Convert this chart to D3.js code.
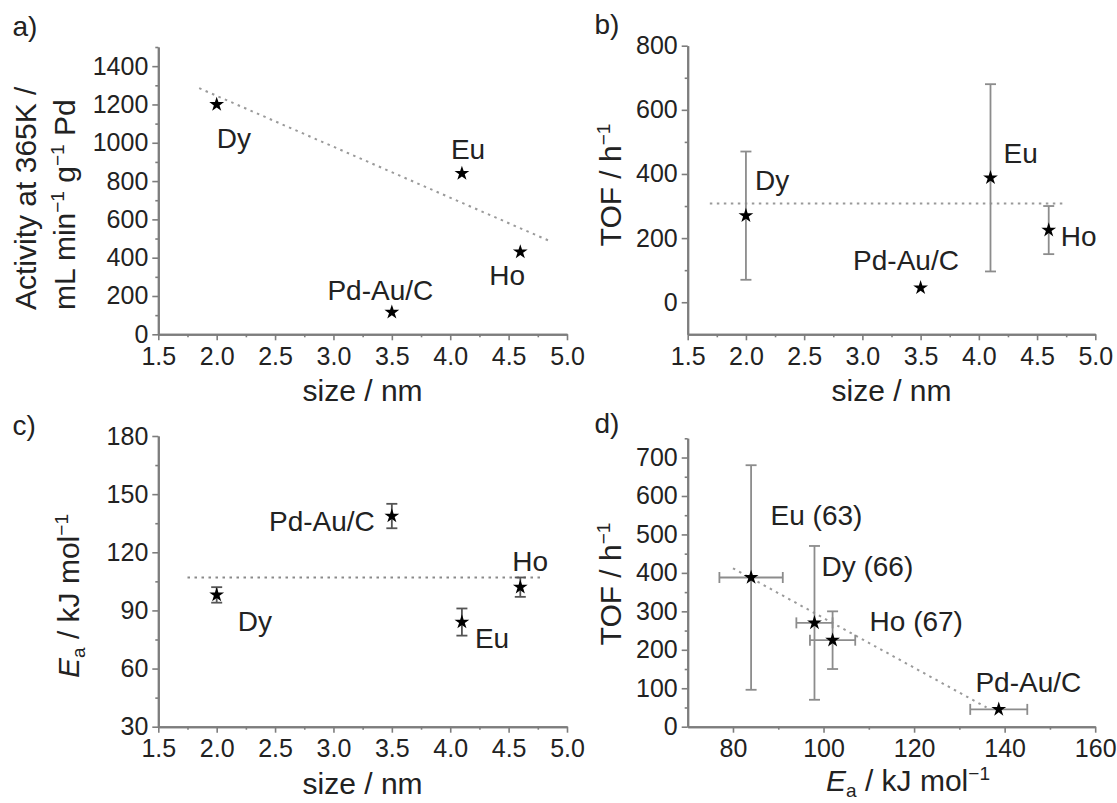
<!DOCTYPE html>
<html>
<head>
<meta charset="utf-8">
<script src="https://cdn.jsdelivr.net/npm/d3@7"></script>
<style>
  body { margin: 0; background: #fff; }
  text { font-family: "Liberation Sans", Arial, sans-serif; fill: #222; }
</style>
</head>
<body>
<svg id="fig" width="1117" height="803"></svg>
<script>
// samples, always in this order
var samples = ["Dy", "Eu", "Ho", "Pd-Au/C"];
var sizeNm = [2.0, 4.1, 4.6, 3.5];
var activity = [1200, 840, 430, 115];
var tof = [270, 388, 225, 45];
var tofErr = [200, 292, 75, 0];
var ea = [98, 84, 102, 138.7];
var eaErr = [4, 7, 5, 6.3];
var dLabels = ["Dy (66)", "Eu (63)", "Ho (67)", "Pd-Au/C"];

// dotted guide lines, [x, y] ends
var trendA = [[1.85, 1285], [4.87, 482]];
var trendB = [[1.69, 308], [4.72, 308]];
var trendC = [[1.75, 107], [4.78, 107]];
var trendD = [[80, 412], [136, 50]];

// ticks
var sizeTicks = [1.5, 2.0, 2.5, 3.0, 3.5, 4.0, 4.5, 5.0];
var sizeMinor = [1.75, 2.25, 2.75, 3.25, 3.75, 4.25, 4.75];
var actTicks = [0, 200, 400, 600, 800, 1000, 1200, 1400];
var actMinor = [100, 300, 500, 700, 900, 1100, 1300, 1500];
var tofTicksB = [0, 200, 400, 600, 800];
var tofMinorB = [100, 300, 500, 700];
var eaTicks = [30, 60, 90, 120, 150, 180];
var eaMinor = [45, 75, 105, 135, 165];
var tofTicksD = [0, 100, 200, 300, 400, 500, 600, 700];
var tofMinorD = [50, 150, 250, 350, 450, 550, 650, 750];
var eaTicksD = [80, 100, 120, 140, 160];
var eaMinorD = [90, 110, 130, 150];

var svg = d3.select("#fig");
var AXIS = "#7d7d7d";

function makePanel(o) {
  var x = d3.scaleLinear().domain(o.xd).range(o.xr);
  var y = d3.scaleLinear().domain(o.yd).range(o.yr);
  var g = svg.append("g");

  var ax = g.append("g").attr("transform", "translate(0," + o.yr[0] + ")");
  ax.call(d3.axisBottom(x).tickValues(o.xt).tickFormat(o.xf).tickSize(6).tickSizeOuter(0).tickPadding(7));
  ax.append("g").call(d3.axisBottom(x).tickValues(o.xm).tickFormat("").tickSize(3).tickSizeOuter(0));

  var ay = g.append("g").attr("transform", "translate(" + o.xr[0] + ",0)");
  ay.call(d3.axisLeft(y).tickValues(o.yt).tickFormat(d3.format("d")).tickSize(6).tickSizeOuter(0).tickPadding(4));
  ay.append("g").call(d3.axisLeft(y).tickValues(o.ym).tickFormat("").tickSize(3).tickSizeOuter(0));

  g.selectAll(".domain").attr("stroke", AXIS).attr("stroke-width", 2);
  g.selectAll(".tick line").attr("stroke", AXIS).attr("stroke-width", 1.6);
  g.selectAll(".tick text").style("font-size", "25px").style("fill", "#222")
    .style("font-family", '"Liberation Sans", Arial, sans-serif');

  return { g: g, x: x, y: y };
}

function dotted(p, pts, color) {
  p.g.append("line")
    .attr("x1", p.x(pts[0][0])).attr("y1", p.y(pts[0][1]))
    .attr("x2", p.x(pts[1][0])).attr("y2", p.y(pts[1][1]))
    .attr("stroke", color).attr("stroke-width", 2)
    .attr("stroke-dasharray", "2.5,4.5");
}

function yErr(p, xs, ys, es, color) {
  var cap = 5.5;
  xs.forEach(function(xv, i) {
    if (!es[i]) return;
    var cx = p.x(xv), y0 = p.y(ys[i] - es[i]), y1 = p.y(ys[i] + es[i]);
    var e = p.g.append("g").attr("stroke", color).attr("stroke-width", 1.8);
    e.append("line").attr("x1", cx).attr("x2", cx).attr("y1", y0).attr("y2", y1);
    e.append("line").attr("x1", cx - cap).attr("x2", cx + cap).attr("y1", y0).attr("y2", y0);
    e.append("line").attr("x1", cx - cap).attr("x2", cx + cap).attr("y1", y1).attr("y2", y1);
  });
}

function xErr(p, xs, ys, es, color) {
  var cap = 5.5;
  xs.forEach(function(xv, i) {
    if (!es[i]) return;
    var cy = p.y(ys[i]), x0 = p.x(xv - es[i]), x1 = p.x(xv + es[i]);
    var e = p.g.append("g").attr("stroke", color).attr("stroke-width", 1.8);
    e.append("line").attr("x1", x0).attr("x2", x1).attr("y1", cy).attr("y2", cy);
    e.append("line").attr("x1", x0).attr("x2", x0).attr("y1", cy - cap).attr("y2", cy + cap);
    e.append("line").attr("x1", x1).attr("x2", x1).attr("y1", cy - cap).attr("y2", cy + cap);
  });
}

var star = d3.symbol().type(d3.symbolStar).size(68);

function stars(p, xs, ys) {
  p.g.selectAll(".star").data(xs).enter().append("path")
    .attr("d", star)
    .attr("transform", function(d, i) { return "translate(" + p.x(d) + "," + p.y(ys[i]) + ")"; })
    .attr("fill", "#000");
}

// label offsets from each point: [dx, dy, anchor]
function labels(p, xs, ys, names, offs) {
  xs.forEach(function(xv, i) {
    p.g.append("text")
      .attr("x", p.x(xv) + offs[i][0])
      .attr("y", p.y(ys[i]) + offs[i][1])
      .attr("text-anchor", offs[i][2])
      .style("font-size", "28px")
      .text(names[i]);
  });
}

// axis title from parts: [text, kind] with kind n / sup / sub / it
function title(x, y, rot, anchor, parts) {
  var t = svg.append("text").attr("x", x).attr("y", y)
    .attr("text-anchor", anchor).style("font-size", "30px");
  if (rot) t.attr("transform", "rotate(-90," + x + "," + y + ")");
  var shift = 0;
  parts.forEach(function(p) {
    var s = p[1] === "sup" ? -11 : p[1] === "sub" ? 6 : 0;
    var ts = t.append("tspan").attr("dy", s - shift).text(p[0]);
    if (p[1] === "sup" || p[1] === "sub") ts.style("font-size", "19px");
    if (p[1] === "it") ts.style("font-style", "italic");
    shift = s;
  });
  return t;
}

var M1 = "\u22121";
var eaParts = [["E", "it"], ["a", "sub"], [" / kJ mol", "n"], [M1, "sup"]];
var tofParts = [["TOF / h", "n"], [M1, "sup"]];
var sizeParts = [["size / nm", "n"]];

var fmt1 = d3.format(".1f");

// ---- a) ----
var pa = makePanel({ xd: [1.5, 5.0], xr: [158.3, 567], yd: [0, 1500], yr: [334.3, 47],
  xt: sizeTicks, xm: sizeMinor, xf: fmt1, yt: actTicks, ym: actMinor });
dotted(pa, trendA, "#9a9a9a");
stars(pa, sizeNm, activity);
labels(pa, sizeNm, activity, samples,
  [[0, 43.5, "start"], [-11, -14, "start"], [-31, 33, "start"], [-11.5, -12, "middle"]]);

// ---- b) ----
var pb = makePanel({ xd: [1.5, 5.0], xr: [687.7, 1095.3], yd: [-100, 800], yr: [334.3, 45.7],
  xt: sizeTicks, xm: sizeMinor, xf: fmt1, yt: tofTicksB, ym: tofMinorB });
dotted(pb, trendB, "#9a9a9a");
yErr(pb, sizeNm, tof, tofErr, "#8c8c8c");
stars(pb, sizeNm, tof);
labels(pb, sizeNm, tof, samples,
  [[9, -26, "start"], [13, -15, "start"], [12, 16, "start"], [-14.6, -18, "middle"]]);

// ---- c) ----
var pc = makePanel({ xd: [1.5, 5.0], xr: [158.3, 567], yd: [30, 180], yr: [726.7, 436],
  xt: sizeTicks, xm: sizeMinor, xf: fmt1, yt: eaTicks, ym: eaMinor });
dotted(pc, trendC, "#8a8a8a");
yErr(pc, sizeNm, ea, eaErr, "#555");
stars(pc, sizeNm, ea);
labels(pc, sizeNm, ea, samples,
  [[21, 36, "start"], [13, 26, "start"], [-8, -16, "start"], [-17, 15, "end"]]);

// ---- d) ----
var pd = makePanel({ xd: [70, 160], xr: [687.7, 1095.2], yd: [0, 750], yr: [726.7, 438.3],
  xt: eaTicksD, xm: eaMinorD, xf: d3.format("d"), yt: tofTicksD, ym: tofMinorD });
dotted(pd, trendD, "#9a9a9a");
yErr(pd, ea, tof, tofErr, "#8c8c8c");
xErr(pd, ea, tof, eaErr, "#8c8c8c");
stars(pd, ea, tof);
labels(pd, ea, tof, dLabels,
  [[7, -47, "start"], [19.5, -53, "start"], [37, -9, "start"], [29.6, -17, "middle"]]);

// ---- axis titles ----
title(36, 310, true, "start", [["Activity at 365K /", "n"]]);
title(75, 310, true, "start", [["mL min", "n"], [M1, "sup"], [" g", "n"], [M1, "sup"], [" Pd", "n"]]);
title(621, 185, true, "middle", tofParts);
title(79, 596, true, "middle", eaParts);
title(621, 584, true, "middle", tofParts);

title(362.6, 401, false, "middle", sizeParts);
title(891.5, 401, false, "middle", sizeParts);
title(362.6, 794, false, "middle", sizeParts);
title(908, 791, false, "middle", eaParts);

// ---- panel letters ----
[["a)", 12.5, 36], ["b)", 594.5, 34], ["c)", 12.5, 435], ["d)", 594.5, 433]].forEach(function(l) {
  svg.append("text").attr("x", l[1]).attr("y", l[2]).style("font-size", "28px").text(l[0]);
});
</script>
</body>
</html>
